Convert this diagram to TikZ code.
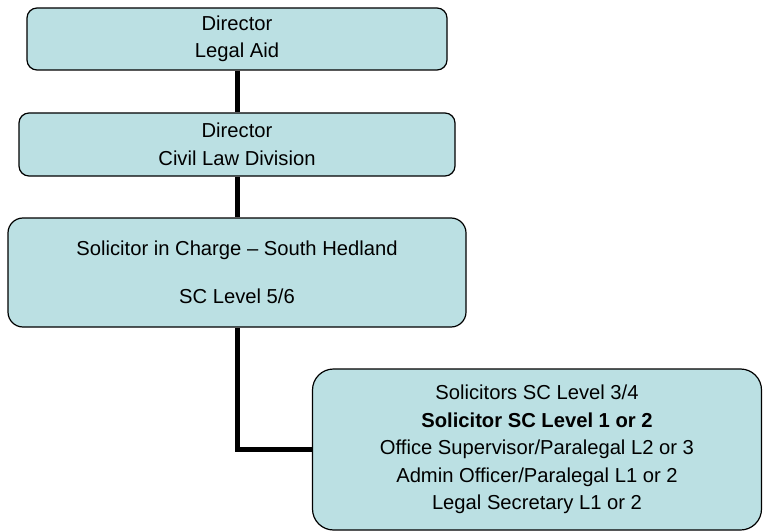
\documentclass[tikz,border=0pt]{standalone}
\usepackage{fontspec}
\setmainfont{Liberation Sans}
\begin{document}
\begin{tikzpicture}[x=1pt, y=-1pt,
    box/.style={draw=black, line width=1.2pt, fill=boxfill, align=center,
        inner sep=0pt, font=\fontsize{20.2}{27.5}\selectfont},
    link/.style={line width=5pt}]
    \definecolor{boxfill}{HTML}{BBE0E3}
    \useasboundingbox (0,0) rectangle (763,532);

    \node[box, rounded corners=10pt, minimum width=420pt, minimum height=62pt] (legalaid) at (237,39) {Director\\Legal Aid};
    \node[box, rounded corners=10pt, minimum width=436pt, minimum height=63pt] (civillaw) at (237,144.5) {Director\\Civil Law Division};
    \node[box, rounded corners=15pt, minimum width=458pt, minimum height=109pt] (incharge) at (237,272.5) {Solicitor in Charge -- South Hedland\\[20pt]SC Level 5/6};
    \node[box, rounded corners=21pt, minimum width=449pt, minimum height=161pt] (staff) at (537,449.5) {Solicitors SC Level 3/4\\\textbf{Solicitor SC Level 1 or 2}\\Office Supervisor/Paralegal L2 or 3\\Admin Officer/Paralegal L1 or 2\\Legal Secretary L1 or 2};

    \draw[link] (legalaid.south) -- (civillaw.north);
    \draw[link] (civillaw.south) -- (incharge.north);
    \draw[link] (incharge.south) |- (staff.west);
\end{tikzpicture}
\end{document}
